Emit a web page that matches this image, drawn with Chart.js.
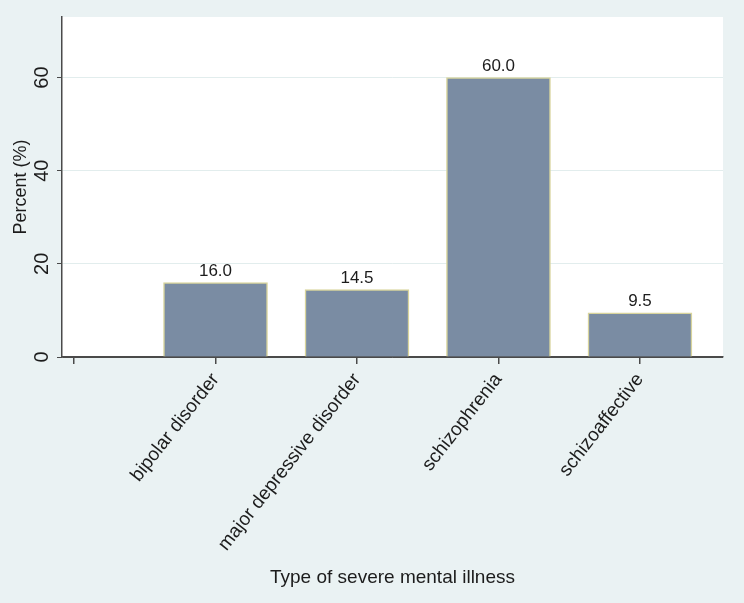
<!DOCTYPE html>
<html>
<head>
<meta charset="utf-8">
<script src="https://cdn.jsdelivr.net/npm/chart.js@4.4.1/dist/chart.umd.min.js"></script>
<style>
  body { margin: 0; background: #eaf2f3; }
  canvas { display: block; }
</style>
</head>
<body>
<canvas id="bars" width="744" height="603"></canvas>
<script>
// ===== Data =====
const categories = ["bipolar disorder", "major depressive disorder", "schizophrenia", "schizoaffective"];
const percents = [16.0, 14.5, 60.0, 9.5];
const yTicks = [0, 20, 40, 60];

const FONT = "'Liberation Sans', Arial, Helvetica, sans-serif";
const TEXT = "#1c1c1c";
const AXIS = "#4a4a4a";

// white plot region
const plotBg = {
  id: "plotBg",
  beforeDraw(chart) {
    const { ctx, chartArea: a } = chart;
    ctx.save();
    ctx.fillStyle = "#ffffff";
    ctx.fillRect(a.left, a.top, a.right - a.left, a.bottom - a.top);
    ctx.restore();
  }
};

// numbers above the bars
const barValues = {
  id: "barValues",
  afterDatasetsDraw(chart) {
    const { ctx } = chart;
    const meta = chart.getDatasetMeta(0);
    ctx.save();
    ctx.font = "17px " + FONT;
    ctx.fillStyle = TEXT;
    ctx.textAlign = "center";
    ctx.textBaseline = "bottom";
    meta.data.forEach((bar, i) => {
      ctx.fillText(percents[i].toFixed(1), bar.x, bar.y - 3);
    });
    ctx.restore();
  }
};

new Chart(document.getElementById("bars"), {
  type: "bar",
  data: {
    datasets: [{
      data: categories.map((c, i) => ({ x: i + 1, y: percents[i] })),
      backgroundColor: "#7a8ca3",
      borderColor: "#d8d49c",
      borderWidth: 1.5,
      barThickness: 104
    }]
  },
  options: {
    responsive: false,
    animation: false,
    devicePixelRatio: 1,
    layout: { padding: { top: 17, right: 21, left: 0, bottom: 0 } },
    plugins: { legend: { display: false }, tooltip: { enabled: false } },
    scales: {
      x: {
        type: "linear",
        offset: false,
        min: -0.085,
        max: 4.587,
        grid: { offset: false, drawOnChartArea: false, drawTicks: true, tickLength: 7, color: AXIS, tickColor: AXIS, tickWidth: 1.5, lineWidth: 1.5 },
        border: { color: AXIS, width: 1.5 },
        ticks: {
          stepSize: 1,
          includeBounds: false,
          autoSkip: false,
          minRotation: 52,
          maxRotation: 52,
          padding: 5,
          color: TEXT,
          font: { family: FONT, size: 19 },
          callback: (v) => (v >= 1 && v <= categories.length && Number.isInteger(v)) ? categories[v - 1] : ""
        },
        title: {
          display: true,
          text: "Type of severe mental illness",
          color: TEXT,
          font: { family: FONT, size: 19 },
          padding: { top: 0, bottom: 14 }
        },
        afterFit: (s) => { s.height = 246; }
      },
      y: {
        min: 0,
        max: 73,
        afterBuildTicks: (s) => { s.ticks = yTicks.map((v) => ({ value: v })); },
        grid: {
          color: (c) => (c.tick && c.tick.value === 0) ? AXIS : "#e2eded",
          tickColor: AXIS,
          tickLength: 5
        },
        border: { color: AXIS, width: 1.5 },
        ticks: {
          minRotation: 90,
          maxRotation: 90,
          crossAlign: "center",
          padding: 3,
          color: TEXT,
          font: { family: FONT, size: 20 }
        },
        title: {
          display: true,
          text: "Percent (%)",
          color: TEXT,
          font: { family: FONT, size: 18 },
          padding: { top: 10, bottom: 0 }
        },
        afterFit: (s) => { s.width = 62; }
      }
    }
  },
  plugins: [plotBg, barValues]
});
</script>
</body>
</html>
